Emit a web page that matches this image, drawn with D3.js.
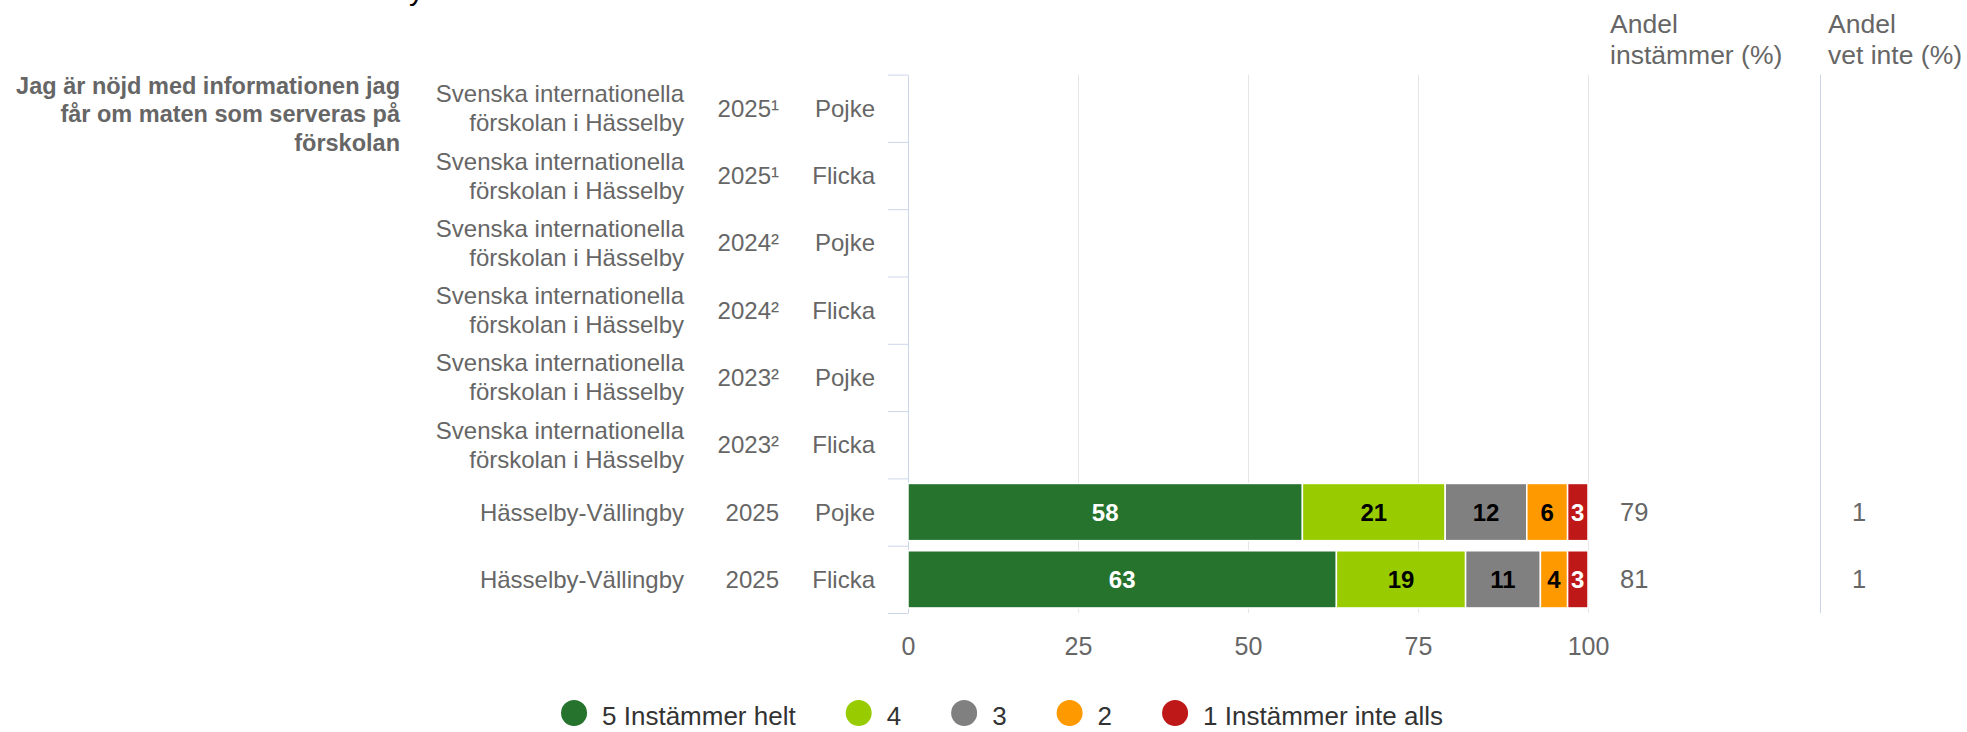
<!DOCTYPE html>
<html><head><meta charset="utf-8">
<script src="https://cdn.jsdelivr.net/npm/d3@7"></script>
<style>html,body{margin:0;padding:0;background:#fff;overflow:hidden}</style>
</head><body>
<svg id="c" width="1967" height="732" xmlns="http://www.w3.org/2000/svg"></svg>
<script>
// ---------- data ----------
const chartTitle = "Svenska internationella förskolan i Hässelby";
const question = "Jag är nöjd med informationen jag får om maten som serveras på förskolan";
const units = [
  "Svenska internationella förskolan i Hässelby",
  "Svenska internationella förskolan i Hässelby",
  "Svenska internationella förskolan i Hässelby",
  "Svenska internationella förskolan i Hässelby",
  "Svenska internationella förskolan i Hässelby",
  "Svenska internationella förskolan i Hässelby",
  "Hässelby-Vällingby",
  "Hässelby-Vällingby"
];
const years = ["2025¹","2025¹","2024²","2024²","2023²","2023²","2025","2025"];
const genders = ["Pojke","Flicka","Pojke","Flicka","Pojke","Flicka","Pojke","Flicka"];

const seriesNames = ["5 Instämmer helt","4","3","2","1 Instämmer inte alls"];
const seriesColors = ["#26732e","#99cc00","#808080","#ff9900","#bf1818"];
const labelColors  = ["#ffffff","#000000","#000000","#000000","#ffffff"];
const s5 = [null,null,null,null,null,null,58,63];
const s4 = [null,null,null,null,null,null,21,19];
const s3 = [null,null,null,null,null,null,12,11];
const s2 = [null,null,null,null,null,null,6,4];
const s1 = [null,null,null,null,null,null,3,3];

const andelInstammer = [null,null,null,null,null,null,79,81];
const andelVetInte   = [null,null,null,null,null,null,1,1];
const columnHeaders = [["Andel","instämmer (%)"],["Andel","vet inte (%)"]];
const xTicks = [0,25,50,75,100];

// ---------- layout ----------
const FONT = "'Liberation Sans', Arial, Helvetica, sans-serif";
const plotLeft = 908, plotRight = 1588, plotTop = 74.6, plotBottom = 613;
const svg = d3.select("#c").style("font-family", FONT);

const x = d3.scaleLinear().domain([0,100]).range([plotLeft, plotRight]);
const idx = d3.range(units.length);
const y = d3.scaleBand().domain(idx).range([plotTop, plotBottom]).paddingInner(0.15).paddingOuter(0.075);
const yb = d3.scaleLinear().domain([0, units.length]).range([plotTop, plotBottom]);
const rowC = i => yb(i + 0.5);

// cut-off title at the very top (as in the reference)
svg.append("text").attr("x", 424).attr("y", 0).attr("text-anchor","end")
  .attr("font-size", 30).attr("fill","#000").text(chartTitle);

// wrapping helper
function wrapLines(str, maxW, size, weight){
  const tmp = svg.append("text").attr("font-size", size).attr("font-weight", weight).attr("visibility","hidden");
  const words = str.split(" "); const lines = []; let cur = "";
  words.forEach(w => {
    const t = cur ? cur + " " + w : w;
    tmp.text(t);
    if (tmp.node().getComputedTextLength() > maxW && cur) { lines.push(cur); cur = w; } else cur = t;
  });
  if (cur) lines.push(cur);
  tmp.remove();
  return lines;
}

// gridlines
const grid = svg.append("g").attr("transform", `translate(0,${plotBottom})`)
  .call(d3.axisBottom(x).tickValues(xTicks.slice(1)).tickSize(-(plotBottom-plotTop)).tickFormat(""));
grid.select(".domain").remove();
grid.selectAll("line").attr("stroke","#e6e6e6").attr("stroke-width",1);

// x-axis labels
const xa = svg.append("g").attr("transform", `translate(0,${plotBottom})`)
  .call(d3.axisBottom(x).tickValues(xTicks).tickSize(0).tickPadding(24));
xa.select(".domain").remove();
xa.selectAll("text").attr("font-size", 25).attr("fill","#666666").attr("font-family", FONT);

// right column separator
svg.append("line").attr("x1",1820.5).attr("x2",1820.5).attr("y1",plotTop).attr("y2",plotBottom)
  .attr("stroke","#ccd6eb").attr("stroke-width",1);

// y axis (ticks between categories)
const ya = svg.append("g").attr("transform", `translate(${plotLeft},0)`)
  .call(d3.axisLeft(yb).tickValues(d3.range(units.length+1)).tickSize(20).tickSizeOuter(0).tickFormat(""));
ya.selectAll("line, path").attr("stroke","#ccd6eb").attr("stroke-width",1);

// stacked bars
const seriesVals = [s5,s4,s3,s2,s1];
const keys = seriesNames;
const table = idx.map(i => { const o = {i}; keys.forEach((k,j)=> o[k] = seriesVals[j][i] == null ? 0 : seriesVals[j][i]); return o; });
const stacked = d3.stack().keys(keys)(table);
stacked.forEach((layer, j) => {
  const g = svg.append("g");
  const pts = layer.filter(d => seriesVals[j][d.data.i] != null);
  g.selectAll("rect").data(pts).join("rect")
    .attr("x", d => x(d[0]))
    .attr("width", d => x(d[1]) - x(d[0]))
    .attr("y", d => y(d.data.i))
    .attr("height", y.bandwidth())
    .attr("fill", seriesColors[j])
    .attr("stroke","#ffffff").attr("stroke-width",1.5);
  g.selectAll("text").data(pts).join("text")
    .attr("x", d => (x(d[0]) + x(d[1]))/2)
    .attr("y", d => rowC(d.data.i))
    .attr("dy","0.36em").attr("text-anchor","middle")
    .attr("font-size", 24).attr("font-weight","bold")
    .attr("fill", labelColors[j])
    .text(d => seriesVals[j][d.data.i]);
});

// question (left bold title)
const qLines = wrapLines(question, 395, 23.5, "bold");
const qt = svg.append("text").attr("font-size",23.5).attr("font-weight","bold").attr("fill","#666666").attr("text-anchor","end");
qLines.forEach((l,k) => qt.append("tspan").attr("x",400).attr("y", 93.5 + k*28.5).text(l));

// category labels
idx.forEach(i => {
  const lines = wrapLines(units[i], 262, 24, "normal");
  const t = svg.append("text").attr("font-size",24).attr("fill","#666666").attr("text-anchor","end");
  const lh = 29;
  const base = rowC(i) - (lines.length-1)*lh/2 + 8.5;
  lines.forEach((l,k) => t.append("tspan").attr("x",684).attr("y", base + k*lh).text(l));
  svg.append("text").attr("x",779).attr("y",rowC(i)+8.5).attr("font-size",24).attr("fill","#666666")
    .attr("text-anchor","end").text(years[i]);
  svg.append("text").attr("x",875).attr("y",rowC(i)+8.5).attr("font-size",24).attr("fill","#666666")
    .attr("text-anchor","end").text(genders[i]);
});

// right columns
const colX = [1610, 1828];
const valX = [1620, 1852];
columnHeaders.forEach((h,c) => {
  const t = svg.append("text").attr("font-size",26.5).attr("fill","#666666");
  h.forEach((l,k) => t.append("tspan").attr("x", colX[c]).attr("y", 33 + k*31).text(l));
});
[andelInstammer, andelVetInte].forEach((arr,c) => {
  idx.forEach(i => {
    if (arr[i] == null) return;
    svg.append("text").attr("x", valX[c]).attr("y", rowC(i)+9).attr("font-size",25.5).attr("fill","#666666").text(arr[i]);
  });
});

// legend
const lg = svg.append("g");
const r = 13, gapText = 15, itemDist = 50, lgY = 713;
let cx = 0;
seriesNames.forEach((n,j) => {
  const it = lg.append("g");
  it.append("circle").attr("cx", cx + r).attr("cy", lgY).attr("r", r).attr("fill", seriesColors[j]);
  const tx = it.append("text").attr("x", cx + 2*r + gapText).attr("y", lgY + 12).attr("font-size",26).attr("fill","#333333").text(n);
  const w = tx.node().getComputedTextLength();
  cx += 2*r + gapText + w + itemDist;
});
const totalW = cx - itemDist;
lg.attr("transform", `translate(${1002 - totalW/2},0)`);
</script>
</body></html>
